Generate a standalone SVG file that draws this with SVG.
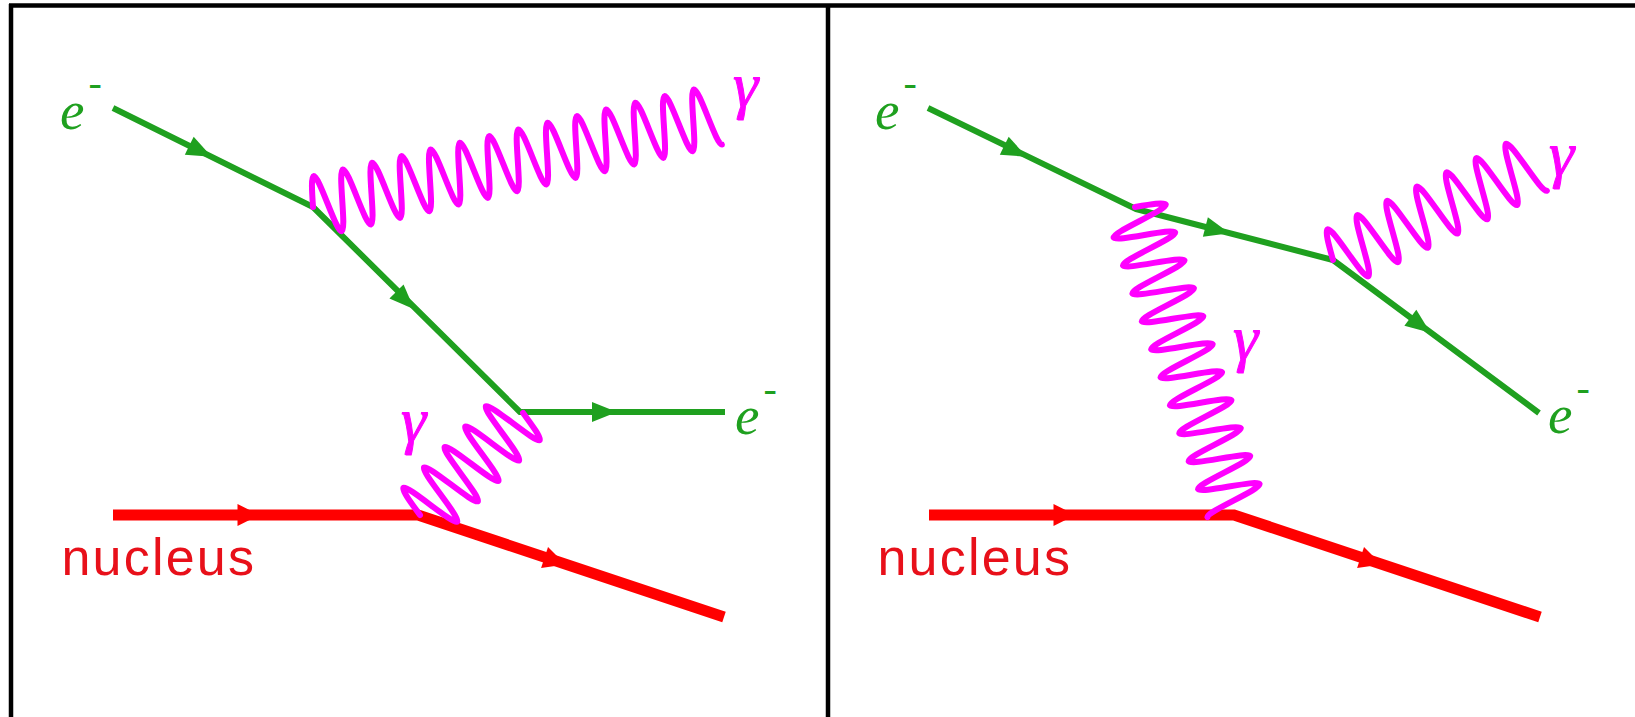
<svg xmlns="http://www.w3.org/2000/svg" xmlns:xlink="http://www.w3.org/1999/xlink" width="1635" height="717" viewBox="0 0 1635 717">
<style>
.frame{stroke:#000;stroke-width:4.5;fill:none}
.electron{stroke:#1fa01f;stroke-width:6;fill:none;stroke-linejoin:round}
.nucleus{stroke:#ff0000;stroke-width:11;fill:none;stroke-linejoin:miter}
.photon{stroke:#ff00ff;stroke-width:6;fill:none;stroke-linecap:round;stroke-linejoin:round;vector-effect:non-scaling-stroke}
.ag{fill:#1fa01f}
.ar{fill:#ff0000}
.elab{font-family:"Liberation Serif","Times New Roman",serif;font-style:italic;font-size:55px;fill:#1fa01f}
.sup{font-size:40px}
.glab{font-family:"Liberation Serif","Times New Roman",serif;font-style:italic;font-size:64px;fill:#ff00ff;stroke:#ff00ff;stroke-width:1}
.nlab{font-family:"Liberation Sans",Arial,sans-serif;font-size:52px;letter-spacing:2.2px;fill:#e8101a}
</style>
<defs>
<path id="ahG" d="M13,0 L-12,-10 L-12,10 Z"/>
<path id="ahR" d="M11,0 L-11,-11 L-11,11 Z"/>
</defs>
<g id="frame">
<line class="frame" x1="9" y1="5.5" x2="1635" y2="5.5"/>
<line class="frame" x1="11" y1="4" x2="11" y2="717"/>
<line class="frame" x1="828" y1="4" x2="828" y2="717" stroke-width="5"/>
</g>
<g id="connectors">
<polyline class="electron" points="113,108 313,207 520,412 725,412"/>
<polyline class="nucleus" points="113,515 418,515 724,617"/>
<polyline class="electron" points="928,108 1136,209 1333,260 1539,413"/>
<polyline class="nucleus" points="929,515 1234,515 1540,617"/>
<use xlink:href="#ahG" class="ag" transform="translate(200,151) rotate(26.3)"/>
<use xlink:href="#ahG" class="ag" transform="translate(405,300) rotate(44.9)"/>
<use xlink:href="#ahG" class="ag" transform="translate(604,412)"/>
<use xlink:href="#ahR" class="ar" transform="translate(248.5,515)"/>
<use xlink:href="#ahR" class="ar" transform="translate(555,561) rotate(18.4)"/>
<use xlink:href="#ahG" class="ag" transform="translate(1015,151) rotate(26.3)"/>
<use xlink:href="#ahG" class="ag" transform="translate(1217,230) rotate(14.5)"/>
<use xlink:href="#ahG" class="ag" transform="translate(1420,325) rotate(36.6)"/>
<use xlink:href="#ahR" class="ar" transform="translate(1064.5,515)"/>
<use xlink:href="#ahR" class="ar" transform="translate(1371,561) rotate(18.4)"/>
<path id="photon-left-real" class="photon" transform="translate(313,207) rotate(-12.84)" d="M0,0
c2.446,-15.37 4.786,-30 7.5,-30 s5.054,14.63 7.5,30 s4.786,30 7.5,30 s5.054,-14.63 7.5,-30
s4.786,-30 7.5,-30 s5.054,14.63 7.5,30 s4.786,30 7.5,30 s5.054,-14.63 7.5,-30
s4.786,-30 7.5,-30 s5.054,14.63 7.5,30 s4.786,30 7.5,30 s5.054,-14.63 7.5,-30
s4.786,-30 7.5,-30 s5.054,14.63 7.5,30 s4.786,30 7.5,30 s5.054,-14.63 7.5,-30
s4.786,-30 7.5,-30 s5.054,14.63 7.5,30 s4.786,30 7.5,30 s5.054,-14.63 7.5,-30
s4.786,-30 7.5,-30 s5.054,14.63 7.5,30 s4.786,30 7.5,30 s5.054,-14.63 7.5,-30
s4.786,-30 7.5,-30 s5.054,14.63 7.5,30 s4.786,30 7.5,30 s5.054,-14.63 7.5,-30
s4.786,-30 7.5,-30 s5.054,14.63 7.5,30 s4.786,30 7.5,30 s5.054,-14.63 7.5,-30
s4.786,-30 7.5,-30 s5.054,14.63 7.5,30 s4.786,30 7.5,30 s5.054,-14.63 7.5,-30
s4.786,-30 7.5,-30 s5.054,14.63 7.5,30 s4.786,30 7.5,30 s5.054,-14.63 7.5,-30
s4.786,-30 7.5,-30 s5.054,14.63 7.5,30 s4.786,30 7.5,30 s5.054,-14.63 7.5,-30
s4.786,-30 7.5,-30 s5.054,14.63 7.5,30 s4.786,30 7.5,30 s5.054,-14.63 7.5,-30
s4.786,-30 7.5,-30 s5.054,14.63 7.5,30 s4.786,30 7.5,30 s5.054,-14.63 7.5,-30
s4.786,-30 7.5,-30 s5.054,14.63 7.5,30 s4.786,30 7.5,30"/>
<path id="photon-left-virtual" class="photon" transform="translate(420,515) rotate(-44.7) scale(0.967,1.033)" d="M0,0
c2.446,-15.37 4.786,-30 7.5,-30 s5.054,14.63 7.5,30 s4.786,30 7.5,30 s5.054,-14.63 7.5,-30
s4.786,-30 7.5,-30 s5.054,14.63 7.5,30 s4.786,30 7.5,30 s5.054,-14.63 7.5,-30
s4.786,-30 7.5,-30 s5.054,14.63 7.5,30 s4.786,30 7.5,30 s5.054,-14.63 7.5,-30
s4.786,-30 7.5,-30 s5.054,14.63 7.5,30 s4.786,30 7.5,30 s5.054,-14.63 7.5,-30
s4.786,-30 7.5,-30 s5.054,14.63 7.5,30 s4.786,30 7.5,30 s5.054,-14.63 7.5,-30"/>
<path id="photon-right-virtual" class="photon" transform="translate(1135,207) rotate(71.45) scale(0.983,1)" d="M0,0
c2.446,-15.37 4.786,-30 7.5,-30 s5.054,14.63 7.5,30 s4.786,30 7.5,30 s5.054,-14.63 7.5,-30
s4.786,-30 7.5,-30 s5.054,14.63 7.5,30 s4.786,30 7.5,30 s5.054,-14.63 7.5,-30
s4.786,-30 7.5,-30 s5.054,14.63 7.5,30 s4.786,30 7.5,30 s5.054,-14.63 7.5,-30
s4.786,-30 7.5,-30 s5.054,14.63 7.5,30 s4.786,30 7.5,30 s5.054,-14.63 7.5,-30
s4.786,-30 7.5,-30 s5.054,14.63 7.5,30 s4.786,30 7.5,30 s5.054,-14.63 7.5,-30
s4.786,-30 7.5,-30 s5.054,14.63 7.5,30 s4.786,30 7.5,30 s5.054,-14.63 7.5,-30
s4.786,-30 7.5,-30 s5.054,14.63 7.5,30 s4.786,30 7.5,30 s5.054,-14.63 7.5,-30
s4.786,-30 7.5,-30 s5.054,14.63 7.5,30 s4.786,30 7.5,30 s5.054,-14.63 7.5,-30
s4.786,-30 7.5,-30 s5.054,14.63 7.5,30 s4.786,30 7.5,30 s5.054,-14.63 7.5,-30
s4.786,-30 7.5,-30 s5.054,14.63 7.5,30 s4.786,30 7.5,30 s5.054,-14.63 7.5,-30
s4.786,-30 7.5,-30 s5.054,14.63 7.5,30 s4.786,30 7.5,30"/>
<path id="photon-right-real" class="photon" transform="translate(1333,260) rotate(-25.6) scale(1.1,1)" d="M0,0
c2.446,-15.37 4.786,-30 7.5,-30 s5.054,14.63 7.5,30 s4.786,30 7.5,30 s5.054,-14.63 7.5,-30
s4.786,-30 7.5,-30 s5.054,14.63 7.5,30 s4.786,30 7.5,30 s5.054,-14.63 7.5,-30
s4.786,-30 7.5,-30 s5.054,14.63 7.5,30 s4.786,30 7.5,30 s5.054,-14.63 7.5,-30
s4.786,-30 7.5,-30 s5.054,14.63 7.5,30 s4.786,30 7.5,30 s5.054,-14.63 7.5,-30
s4.786,-30 7.5,-30 s5.054,14.63 7.5,30 s4.786,30 7.5,30 s5.054,-14.63 7.5,-30
s4.786,-30 7.5,-30 s5.054,14.63 7.5,30 s4.786,30 7.5,30 s5.054,-14.63 7.5,-30
s4.786,-30 7.5,-30 s5.054,14.63 7.5,30 s4.786,30 7.5,30"/>
</g>
<g id="label-left-e-in"><text class="elab" x="60" y="129">e<tspan class="sup" dx="4" dy="-33">-</tspan></text></g>
<g id="label-left-e-out"><text class="elab" x="735" y="434">e<tspan class="sup" dx="4" dy="-32">-</tspan></text></g>
<g id="label-left-gamma-real"><text class="glab" x="733" y="106">γ</text></g>
<g id="label-left-gamma-virtual"><text class="glab" x="401" y="441">γ</text></g>
<g id="label-left-nucleus"><text class="nlab" x="61.5" y="575">nucleus</text></g>
<g id="label-right-e-in"><text class="elab" x="875" y="129">e<tspan class="sup" dx="4" dy="-33">-</tspan></text></g>
<g id="label-right-e-out"><text class="elab" x="1548" y="433">e<tspan class="sup" dx="4" dy="-32">-</tspan></text></g>
<g id="label-right-gamma-virtual"><text class="glab" x="1233" y="359">γ</text></g>
<g id="label-right-gamma-real"><text class="glab" x="1549" y="175">γ</text></g>
<g id="label-right-nucleus"><text class="nlab" x="877.5" y="575">nucleus</text></g>
</svg>
